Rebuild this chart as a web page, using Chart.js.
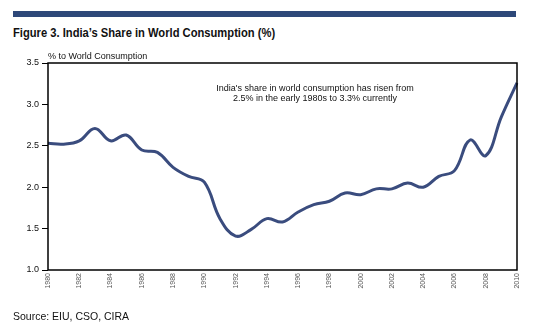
<!DOCTYPE html>
<html>
<head>
<meta charset="utf-8">
<script src="https://cdn.jsdelivr.net/npm/chart.js@4.4.1/dist/chart.umd.min.js"></script>
<style>
  html, body { margin: 0; padding: 0; background: #fff; }
  #wrap { position: relative; width: 544px; height: 325px; overflow: hidden; }
  #bar { position: absolute; left: 13px; top: 11px; width: 503px; height: 6px; background: #2e4879; }
  #title { position: absolute; left: 13px; top: 25px; font: bold 13px "Liberation Sans", Arial, sans-serif; color: #111; white-space: nowrap; transform: scaleX(0.86); transform-origin: left top; }
  #source { position: absolute; left: 13px; top: 310px; font: 10.5px "Liberation Sans", Arial, sans-serif; color: #111; white-space: nowrap; }
  canvas { position: absolute; left: 0; top: 0; }
</style>
</head>
<body>
<div id="wrap">
  <div id="bar"></div>
  <div id="title">Figure 3. India’s Share in World Consumption (%)</div>
  <canvas id="chart" width="544" height="325"></canvas>
  <div id="source">Source: EIU, CSO, CIRA</div>
</div>
<script>
const years = [];
for (let y = 1980; y <= 2010; y++) years.push(String(y));

// India's share of world consumption, % per year
const share = [2.53, 2.52, 2.56, 2.71, 2.56, 2.63, 2.45, 2.42, 2.24, 2.13,
               2.06, 1.62, 1.41, 1.49, 1.62, 1.58, 1.70, 1.79, 1.83, 1.93,
               1.91, 1.98, 1.98, 2.05, 2.00, 2.13, 2.20, 2.57, 2.38, 2.85,
               3.26];

const yTicks = [1.0, 1.5, 2.0, 2.5, 3.0, 3.5];
const unitLabel = "% to World Consumption";
const noteLines = [
  "India's share in world consumption has risen from",
  "2.5% in the early 1980s to 3.3% currently",
];

// frame around the plot plus the unit label and the note
const extras = {
  id: "extras",
  afterDraw(chart) {
    const { ctx, chartArea: a } = chart;
    ctx.save();
    ctx.strokeStyle = "#000";
    ctx.lineWidth = 1.5;
    ctx.strokeRect(a.left, a.top, a.right - a.left, a.bottom - a.top);

    ctx.fillStyle = "#111";
    ctx.font = '9px "Liberation Sans", Arial, sans-serif';
    ctx.textAlign = "left";
    ctx.textBaseline = "alphabetic";
    ctx.fillText(unitLabel, a.left, a.top - 4);

    ctx.textAlign = "center";
    ctx.fillText(noteLines[0], 315, 91);
    ctx.fillText(noteLines[1], 315, 101);
    ctx.restore();
  },
};

new Chart(document.getElementById("chart"), {
  type: "line",
  data: {
    labels: years,
    datasets: [{
      data: share,
      borderColor: "#3a4c7e",
      borderWidth: 3,
      pointRadius: 0,
      tension: 0.4,
      fill: false,
    }],
  },
  options: {
    responsive: false,
    animation: false,
    layout: { padding: { left: 0, right: 27, top: 63, bottom: 0 } },
    plugins: { legend: { display: false }, tooltip: { enabled: false } },
    scales: {
      x: {
        offset: false,
        border: { display: false },
        grid: { display: false, drawTicks: false },
        ticks: {
          autoSkip: false,
          minRotation: 90,
          maxRotation: 90,
          padding: 3,
          color: "#555",
          font: { family: "Liberation Sans", size: 7 },
          callback: (v, i) => (i % 2 === 0 ? years[i] : ""),
        },
        afterFit: (s) => { s.height = 55; },
      },
      y: {
        min: 1,
        max: 3.5,
        border: { display: false },
        grid: { drawOnChartArea: false, tickLength: 6, color: "#000", lineWidth: 1 },
        afterBuildTicks: (s) => { s.ticks = yTicks.map((v) => ({ value: v })); },
        ticks: {
          padding: 3,
          color: "#111",
          font: { family: "Liberation Sans", size: 9 },
          callback: (v) => Number(v).toFixed(1),
        },
        afterFit: (s) => { s.width = 48; },
      },
    },
  },
  plugins: [extras],
});
</script>
</body>
</html>
